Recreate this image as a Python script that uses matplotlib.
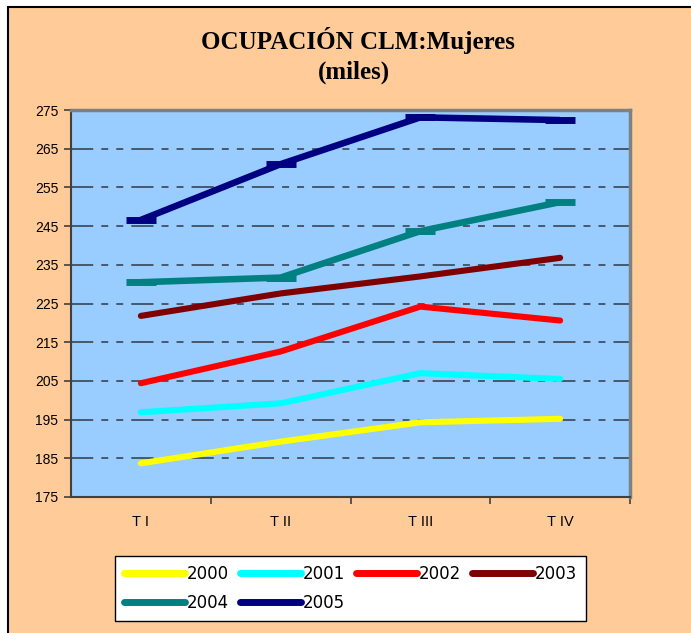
import matplotlib
matplotlib.use("Agg")
import matplotlib.pyplot as plt
from matplotlib.lines import Line2D
from matplotlib.patches import Rectangle
from matplotlib import font_manager

plt.rcParams["lines.scale_dashes"] = False

categories = ["T I", "T II", "T III", "T IV"]
years = ["2000", "2001", "2002", "2003", "2004", "2005"]
v2000 = [183.7, 189.3, 194.3, 195.2]
v2001 = [196.9, 199.2, 207.0, 205.5]
v2002 = [204.4, 212.6, 224.2, 220.6]
v2003 = [221.8, 227.6, 232.0, 236.8]
v2004 = [230.5, 231.7, 243.7, 251.2]
v2005 = [246.6, 261.0, 273.1, 272.4]
series = [v2000, v2001, v2002, v2003, v2004, v2005]
colors = ["#FFFF00", "#00FFFF", "#FF0000", "#800000", "#008080", "#000080"]
yticks = list(range(175, 276, 10))

names = {f.name for f in font_manager.fontManager.ttflist}
narrow = "Liberation Sans Narrow" if "Liberation Sans Narrow" in names else "Liberation Sans"
xlab_size = 11.5 if narrow == "Liberation Sans Narrow" else 10.5

W, H = 691, 633
fig = plt.figure(figsize=(W / 100, H / 100), dpi=100)
fig.patch.set_facecolor("white")
fig.patches.append(Rectangle((8 / W, -0.01), 1.0, (H - 7) / H + 0.01, transform=fig.transFigure,
                             facecolor="#FFCC99", edgecolor="black", linewidth=1.5, zorder=-5))

ax = fig.add_axes([71 / W, 1 - 497 / H, (630 - 71) / W, (497 - 110) / H])
ax.set_zorder(1)
ax.set_facecolor("#99CCFF")
x = list(range(len(categories)))
for i, (vals, c) in enumerate(zip(series, colors)):
    if i >= 4:
        ax.plot(x, vals, color=c, lw=4.7, marker="_", ms=22, mew=5, solid_capstyle="butt", zorder=3)
    else:
        ax.plot(x, vals, color=c, lw=4.4, solid_capstyle="round", zorder=3)

ax.set_xlim(-0.5, 3.5)
ax.set_ylim(175, 275)
ax.set_yticks(yticks)
ax.set_yticklabels([str(t) for t in yticks], fontfamily="Liberation Sans", fontsize=10)
for t in yticks[1:-1]:
    ax.axhline(t, color="#2e3a48", lw=1.1, dashes=(16, 5.8, 5, 5.8, 5, 5.8), zorder=1)
ax.set_xticks(x)
ax.set_xticklabels(categories, fontfamily=narrow, fontsize=xlab_size)
ax.set_xticks([0.5, 1.5, 2.5, 3.5], minor=True)
ax.tick_params(axis="x", which="major", length=0, pad=13)
ax.tick_params(axis="x", which="minor", length=5, width=1.2, color="#404040")
ax.tick_params(axis="y", length=5, width=1.2, color="#404040", pad=4)
for s in ["top", "right"]:
    ax.spines[s].set_color("#808080")
    ax.spines[s].set_linewidth(2.5)
for s in ["left", "bottom"]:
    ax.spines[s].set_color("#404040")
    ax.spines[s].set_linewidth(1.5)

fig.text(358 / W, 1 - 40 / H, "OCUPACIÓN CLM:Mujeres", ha="center", va="center",
         fontfamily="Liberation Serif", fontweight="bold", fontsize=18)
fig.text(354 / W, 1 - 72 / H, "(miles)", ha="center", va="center",
         fontfamily="Liberation Serif", fontweight="bold", fontsize=18)

handles = [Line2D([], [], color=c, lw=5, solid_capstyle="round") for c in colors]
order = [0, 4, 1, 5, 2, 3]
leg = fig.legend([handles[i] for i in order], [years[i] for i in order], loc="upper left",
                 bbox_to_anchor=(115 / W, 1 - 556 / H),
                 ncol=4, frameon=True, fancybox=False, framealpha=1, edgecolor="black",
                 prop={"family": "DejaVu Sans", "size": 12}, handlelength=3.65,
                 handletextpad=0.12, columnspacing=0.65, labelspacing=0.65, borderpad=0.55,
                 borderaxespad=0)
leg.get_frame().set_linewidth(1.0)

fig.savefig("out.png", dpi=100, facecolor=fig.get_facecolor())
